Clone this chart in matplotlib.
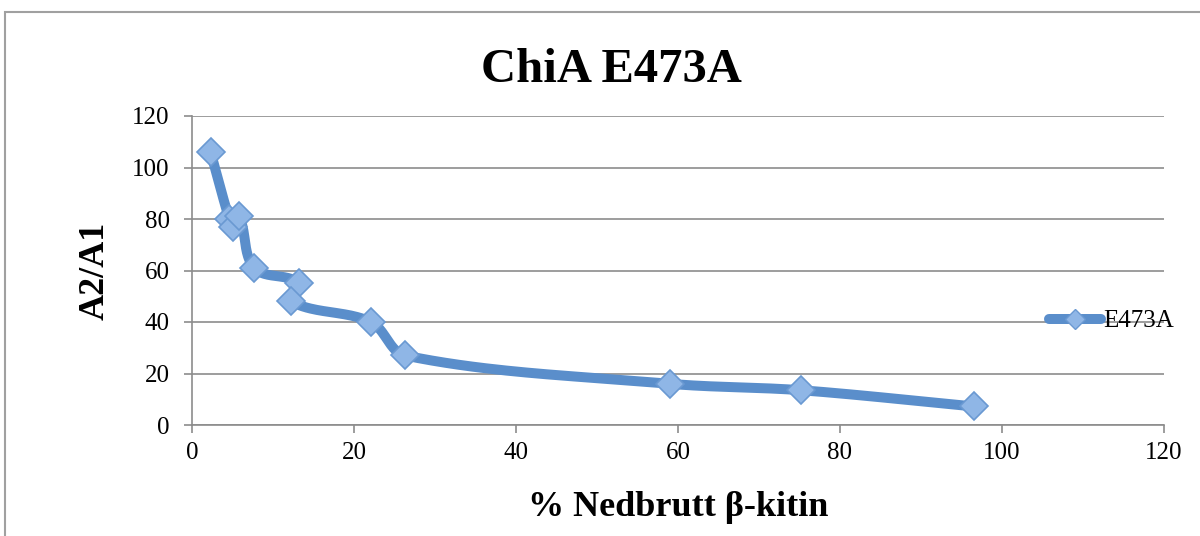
import numpy as np
import matplotlib
matplotlib.use("Agg")
import matplotlib.pyplot as plt
from matplotlib.patches import Rectangle
from matplotlib.lines import Line2D

# Data
x_vals = [2.3, 4.6, 5.1, 5.8, 7.7, 13.2, 12.2, 22.1, 26.3, 59.0, 75.2, 96.5]
y_vals = [106, 80, 77, 81, 61, 55, 48, 40, 27, 16, 13.5, 7.2]
series_name = "E473A"
title = "ChiA E473A"
xlabel = "% Nedbrutt β-kitin"
ylabel = "A2/A1"
xticks = [0, 20, 40, 60, 80, 100, 120]
yticks = [0, 20, 40, 60, 80, 100, 120]

serif = ["Liberation Serif", "DejaVu Serif"]
line_c = "#5a8ecb"
face_c = "#8fb6e6"
edge_c = "#6a99d2"

fig = plt.figure(figsize=(12, 5.36), dpi=100)
ax = fig.add_axes([192/1200, 1-425/536, (1164-192)/1200, (425-116)/536])
ax.set_xlim(0, 120)
ax.set_ylim(0, 120)

# chart border
fig.patches.append(Rectangle((5/1200, -0.1), 1.2, 1-12/536+0.1, transform=fig.transFigure,
                             fill=False, edgecolor="#a0a0a0", linewidth=1.5))

ax.set_xticks(xticks)
ax.set_yticks(yticks)
ax.grid(axis="y", color="#8c8c8c", linewidth=1.2)
ax.set_axisbelow(True)
for s in ["top", "right"]:
    ax.spines[s].set_visible(False)
for s in ["left", "bottom"]:
    ax.spines[s].set_color("#8c8c8c")
    ax.spines[s].set_linewidth(1.2)
ax.tick_params(colors="#8c8c8c", length=6, width=1.2, labelcolor="black", labelsize=18)
ax.tick_params(axis="y", pad=10)
ax.tick_params(axis="x", pad=6)
for lab in ax.get_xticklabels() + ax.get_yticklabels():
    lab.set_family(serif)

# Excel-style smoothed line computed in display space
fig.canvas.draw()
pts = ax.transData.transform(np.column_stack([x_vals, y_vals]))
n = len(pts)
k = 1.0 / 3.0
curve = []
for i in range(n - 1):
    p0 = pts[max(i - 1, 0)]
    p1 = pts[i]
    p2 = pts[i + 1]
    p3 = pts[min(i + 2, n - 1)]
    L = np.linalg.norm(p2 - p1)
    t1 = p2 - p0
    t2 = p3 - p1
    t1 = t1 / (np.linalg.norm(t1) + 1e-9)
    t2 = t2 / (np.linalg.norm(t2) + 1e-9)
    c1 = p1 + t1 * L * k
    c2 = p2 - t2 * L * k
    t = np.linspace(0, 1, 40)[:, None]
    seg = (1-t)**3*p1 + 3*(1-t)**2*t*c1 + 3*(1-t)*t**2*c2 + t**3*p2
    curve.append(seg if i == 0 else seg[1:])
curve = np.vstack(curve)
curve_d = ax.transData.inverted().transform(curve)
ax.plot(curve_d[:, 0], curve_d[:, 1], color=line_c, linewidth=7.2, solid_capstyle="round",
        solid_joinstyle="round", zorder=3)
ax.plot(x_vals, y_vals, linestyle="none", marker="D", markersize=14, markerfacecolor=face_c,
        markeredgecolor=edge_c, markeredgewidth=1.2, zorder=4, clip_on=False)

fig.text(611/1200, 1-70/536, title, fontsize=35, fontweight="bold", family=serif,
         ha="center", va="center")
ax.set_xlabel(xlabel, fontsize=26, fontweight="bold", family=serif, va="center")
ax.xaxis.set_label_coords(0.5, (425-508)/309)
ax.set_ylabel(ylabel, fontsize=26, fontweight="bold", family=serif, va="center")
ax.yaxis.set_label_coords((95-192)/972, 0.5)

handle = Line2D([], [], color=line_c, linewidth=7.2, solid_capstyle="round", marker="D",
                markersize=10, markerfacecolor=face_c, markeredgecolor=edge_c)
leg = fig.legend([handle], [series_name], loc="center left", bbox_to_anchor=(1036/1200, 1-321/536),
                 frameon=False, prop={"family": serif, "size": 18}, handlelength=2.1,
                 handletextpad=0.1, borderpad=0)

fig.savefig("out.png", dpi=100)
